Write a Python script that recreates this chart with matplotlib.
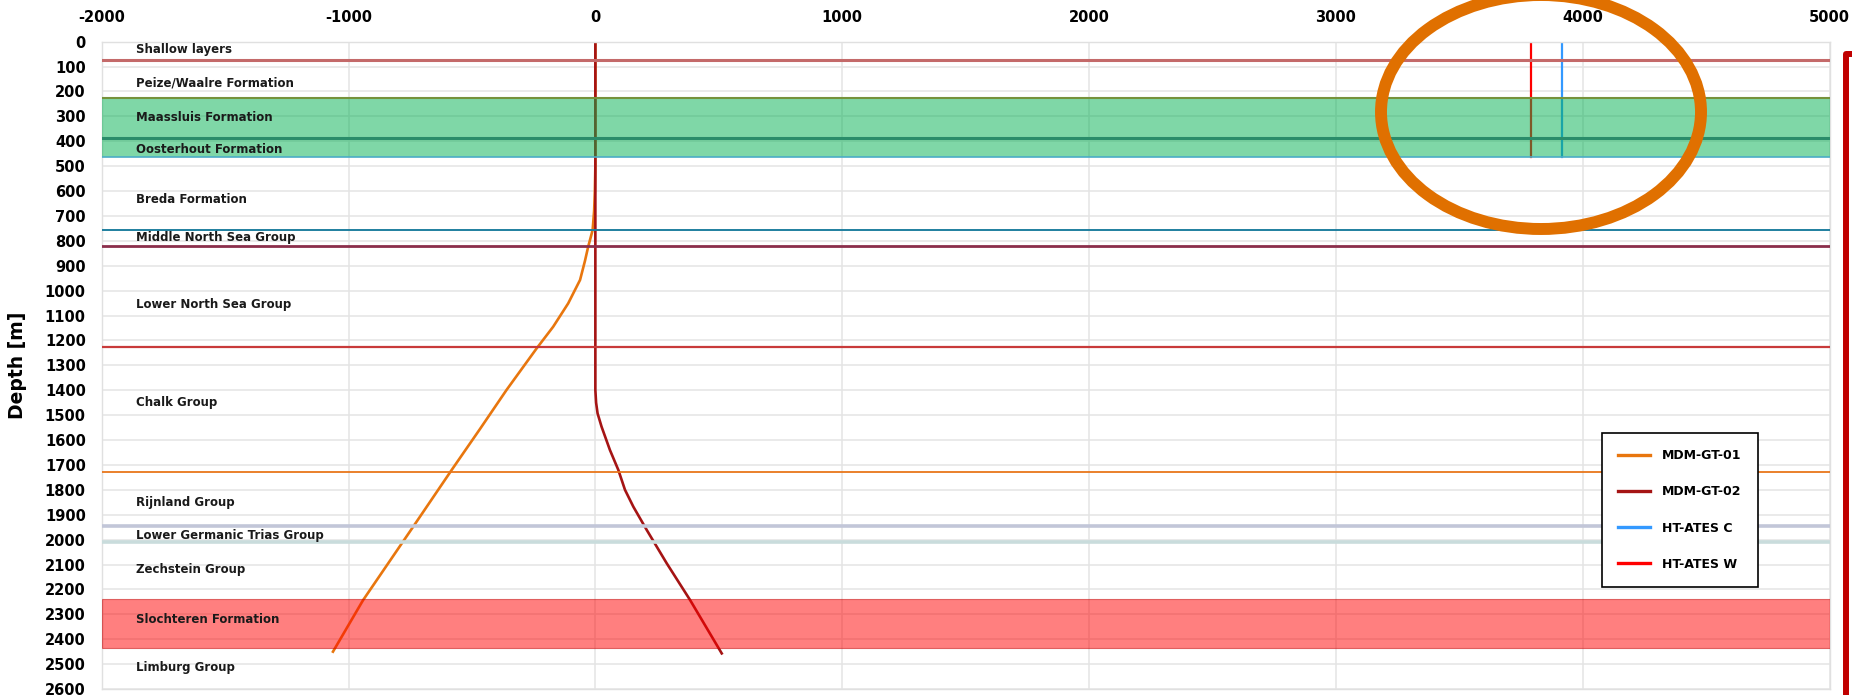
import matplotlib
matplotlib.use('Agg')
import matplotlib.pyplot as plt
from matplotlib.patches import Ellipse
from matplotlib.lines import Line2D
import numpy as np

plt.rcParams['font.family'] = ['DejaVu Sans']
plt.rcParams['axes.unicode_minus'] = False

# formation boundary lines (depth in m) and their colours
boundary_depths = [75, 225, 385, 465, 755, 822, 1228, 1730, 1945, 2008]
boundary_colors = ['#c46a6a', '#76923c', '#2a8c6a', '#4bacc6', '#1f7f9f',
                   '#8b2e4b', '#c83a3a', '#e8761a', '#c2c6d8', '#c9dcdc']
boundary_widths = [2.2, 1.5, 2.2, 1.2, 1.4, 2.0, 1.6, 1.3, 2.6, 2.6]

# aquifer bands (top, bottom)
green_band = (225, 465)
red_band = (2240, 2437)

formation_names = ['Shallow layers', 'Peize/Waalre Formation', 'Maassluis Formation',
                   'Oosterhout Formation', 'Breda Formation', 'Middle North Sea Group',
                   'Lower North Sea Group', 'Chalk Group', 'Rijnland Group',
                   'Lower Germanic Trias Group', 'Zechstein Group',
                   'Slochteren Formation', 'Limburg Group']
label_depths = [33, 164, 304, 435, 633, 786, 1054, 1450, 1850, 1983, 2118, 2319, 2514]
label_x = -1860

# well trajectories: horizontal offset [m] vs depth [m]
gt01_x = [0, 0, -2, -5, -11, -20, -29, -42, -62, -84, -110, -171, -238, -360, -467,
          -582, -738, -941, -1063]
gt01_z = [0, 500, 600, 680, 756, 790, 823, 880, 957, 1000, 1051, 1145, 1232, 1399, 1555,
          1720, 1948, 2243, 2450]
gt02_x = [0, 0, 3, 9, 25, 59, 93, 120, 154, 208, 289, 384, 512]
gt02_z = [0, 1399, 1450, 1493, 1546, 1640, 1720, 1800, 1868, 1961, 2095, 2243, 2457]

# HT-ATES wells
ates_w_x, ates_c_x = 3790, 3915
ates_depth = 465

fig = plt.figure(figsize=(18.52, 6.95), dpi=100)
ax = fig.add_axes([101.7 / 1852, 1 - 689 / 695, (1829.5 - 101.7) / 1852, (689 - 41.7) / 695])

ax.set_xlim(-2000, 5000)
ax.set_ylim(2600, 0)
ax.set_xticks(np.arange(-2000, 5001, 1000))
ax.set_xticklabels([str(v) for v in range(-2000, 5001, 1000)])
ax.set_yticks(np.arange(0, 2601, 100))
ax.xaxis.tick_top()
ax.tick_params(axis='both', length=0, labelsize=10.5)
ax.tick_params(axis='y', pad=11.5)
ax.tick_params(axis='x', pad=12)
for lab in ax.get_xticklabels() + ax.get_yticklabels():
    lab.set_fontweight('bold')
ax.set_ylabel('Depth [m]', fontsize=13.5, fontweight='bold', labelpad=13)

ax.grid(True, color='#e4e4e4', lw=1.1, zorder=0)
ax.set_axisbelow(True)
for s in ax.spines.values():
    s.set_color('#e0e0e0')
    s.set_linewidth(1.0)

# wells
ax.plot(gt01_x, gt01_z, color='#e8760e', lw=1.9, zorder=2, label='MDM-GT-01')
ax.plot(gt02_x, gt02_z, color='#a51414', lw=1.9, zorder=2.1, label='MDM-GT-02')
ax.plot([ates_c_x, ates_c_x], [0, ates_depth], color='#3399ff', lw=1.6, zorder=2, label='HT-ATES C')
ax.plot([ates_w_x, ates_w_x], [0, ates_depth], color='#ff0000', lw=1.6, zorder=2, label='HT-ATES W')

# bands on top (semi transparent)
ax.axhspan(*green_band, color='#00b050', alpha=0.5, lw=0, zorder=3)
ax.axhspan(*red_band, facecolor='#ff0000', alpha=0.5, edgecolor='#c00000', lw=0.8, zorder=3)

for d, c, w in zip(boundary_depths, boundary_colors, boundary_widths):
    ax.axhline(d, color=c, lw=w, zorder=4)

for name, d in zip(formation_names, label_depths):
    ax.text(label_x, d, name, fontsize=8.5, fontweight='bold', color='#1a1a1a',
            va='center', ha='left', zorder=5)

leg = ax.legend(loc='upper left', bbox_to_anchor=(1602 / 1852, 1 - 433 / 695),
                bbox_transform=fig.transFigure, borderaxespad=0, fancybox=False,
                framealpha=1, edgecolor='black', prop={'size': 9, 'weight': 'bold'},
                labelspacing=1.85, handlelength=2.5, handletextpad=1.0,
                borderpad=1.3)
leg.get_frame().set_linewidth(1.2)
for ln in leg.get_lines():
    ln.set_linewidth(2.4)
leg.set_zorder(6)

# annotation: orange ellipse and red bracket
fig.patches.append(Ellipse((1541 / 1852, 1 - 112 / 695), 320 / 1852, 234 / 695,
                           transform=fig.transFigure, fill=False,
                           edgecolor='#e07000', lw=8.6, zorder=10))
fig.lines.append(Line2D([1846 / 1852, 1846 / 1852, 1.01], [-0.01, 1 - 53.5 / 695, 1 - 53.5 / 695],
                        transform=fig.transFigure, color='#c00000', lw=4.3, zorder=10))

fig.savefig('out.png', dpi=100)
